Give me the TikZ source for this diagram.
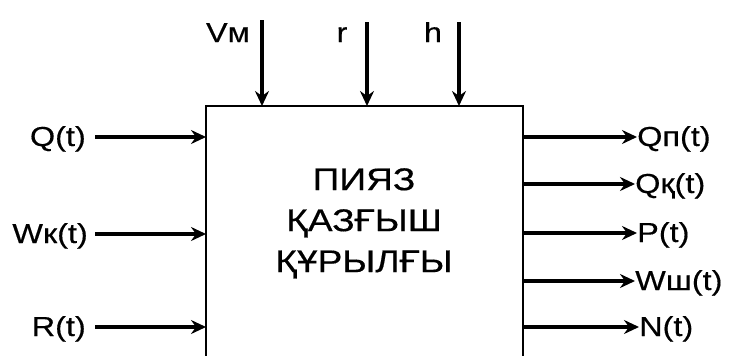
\documentclass[tikz,border=0pt]{standalone}
\usepackage{fontspec}
\setmainfont{Liberation Sans}[FakeStretch=1.18,FakeBold=0.4]
\usetikzlibrary{arrows.meta}
\begin{document}
\begin{tikzpicture}[x=1pt,y=-1pt,
  lbl/.style={font=\fontsize{27.5}{30}\selectfont, inner sep=0pt},
  arr/.style={line width=3.4pt, -{Stealth[length=15pt,width=14pt,inset=5pt]}},
  boxline/.style={line width=2.6pt}]
\useasboundingbox (0,0) rectangle (732,356);
\begin{scope}
\clip (0,0) rectangle (732,356);
\draw[boxline] (206,370) -- (206,106) -- (523,106) -- (523,370);
\end{scope}
% top inputs
\coordinate (t1) at (262,20);  \coordinate (e1) at (262,106);
\coordinate (t2) at (367,22);  \coordinate (e2) at (367,106);
\coordinate (t3) at (459,22);  \coordinate (e3) at (459,106);
\draw[arr] (t1) -- (e1);
\draw[arr] (t2) -- (e2);
\draw[arr] (t3) -- (e3);
\node[lbl, anchor=base] (vm) at (228,42) {Vм};
\node[lbl, anchor=base] (r) at (342,42) {r};
\node[lbl, anchor=base] (h) at (433,42) {h};
% left inputs
\node[lbl, anchor=base east] (q) at (86,146) {Q(t)};
\node[lbl, anchor=base east] (wk) at (88,243) {Wк(t)};
\node[lbl, anchor=base east] (rt) at (86,336) {R(t)};
\coordinate (lq) at (206,137);
\coordinate (lw) at (206,234);
\coordinate (lr) at (206,327);
\draw[arr] (q.east |- lq) ++(9,0) coordinate (sq) -- (lq);
\draw[arr] (wk.east |- lw) ++(7,0) coordinate (sw) -- (lw);
\draw[arr] (rt.east |- lr) ++(9,0) coordinate (sr) -- (lr);
% right outputs
\node[lbl, anchor=base west] (qp) at (637,146) {Qп(t)};
\node[lbl, anchor=base west] (qk) at (635,193) {Qқ(t)};
\node[lbl, anchor=base west] (p) at (637,242) {P(t)};
\node[lbl, anchor=base west] (ws) at (635,290) {Wш(t)};
\node[lbl, anchor=base west] (n) at (639,336) {N(t)};
\coordinate (r1) at (523,137);
\coordinate (r2) at (523,184);
\coordinate (r3) at (523,233);
\coordinate (r4) at (523,281);
\coordinate (r5) at (523,327);
\draw[arr] (r1) -- (qp.west |- r1);
\draw[arr] (r2) -- (qk.west |- r2);
\draw[arr] (r3) -- (p.west |- r3);
\draw[arr] (r4) -- (ws.west |- r4);
\draw[arr] (r5) -- (n.west |- r5);
% title
\node[font=\fontsize{31.5}{41}\selectfont, align=center, anchor=north, inner sep=0pt] (title) at (364,168) {ПИЯЗ\\ҚАЗҒЫШ\\ҚҰРЫЛҒЫ};
\end{tikzpicture}
\end{document}
